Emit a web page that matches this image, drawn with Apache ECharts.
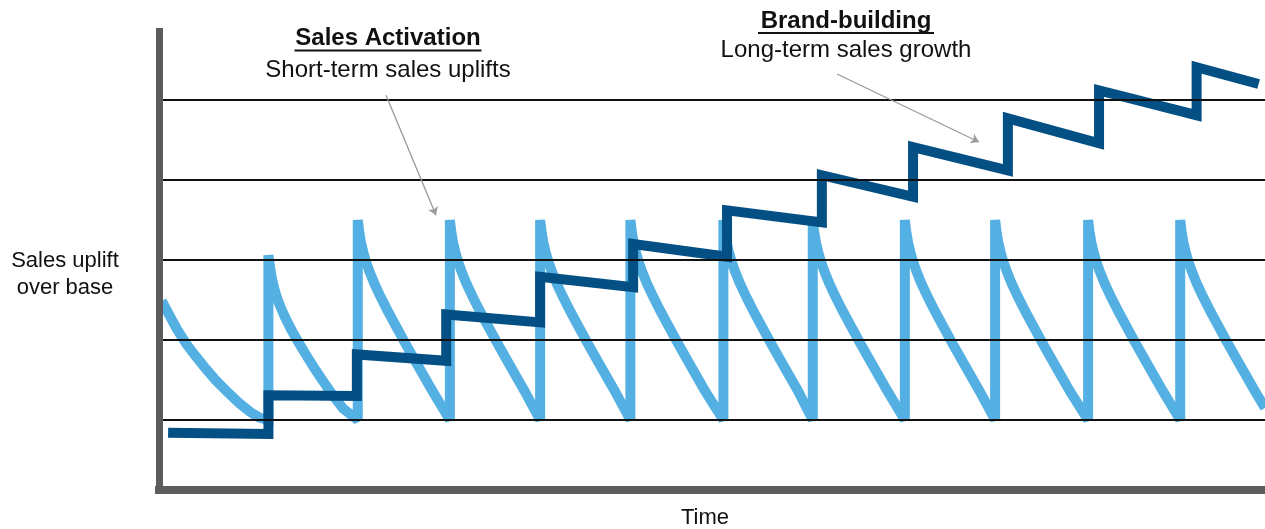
<!DOCTYPE html>
<html>
<head>
<meta charset="utf-8">
<title>Sales Activation vs Brand-building</title>
<script src="https://cdn.jsdelivr.net/npm/echarts@6/dist/echarts.min.js"></script>
<style>
  html, body { margin: 0; padding: 0; background: #ffffff; }
  #chart { width: 1265px; height: 529px; }
</style>
</head>
<body>
<div id="chart"></div>
<script>
// Short-term activation bursts: [time, uplift] — each burst jumps up and decays back to base
const activationPoints = [
  [-0.17, 2.49], [-0.1, 2.34], [0.0, 2.13], [0.1, 1.95], [0.2, 1.8], [0.3, 1.66], [0.42, 1.5], [0.55, 1.35], [0.68, 1.21], [0.8, 1.1], [0.9, 1.03],
  [1.0, 1.0], [1.0, 3.06], [1.015, 2.93], [1.035, 2.79], [1.06, 2.66], [1.09, 2.54], [1.13, 2.42], [1.18, 2.29], [1.25, 2.13], [1.33, 1.97], [1.42, 1.8], [1.52, 1.62], [1.62, 1.45], [1.72, 1.29], [1.82, 1.14],
  [1.98, 1.0], [1.98, 3.5], [1.995, 3.36], [2.015, 3.22], [2.04, 3.1], [2.07, 2.98], [2.11, 2.85], [2.16, 2.71], [2.23, 2.54], [2.31, 2.36], [2.4, 2.17], [2.5, 1.96], [2.6, 1.76], [2.7, 1.56], [2.8, 1.36],
  [2.99, 1.0], [2.99, 3.5], [3.005, 3.36], [3.025, 3.22], [3.05, 3.1], [3.08, 2.98], [3.12, 2.85], [3.17, 2.71], [3.24, 2.54], [3.32, 2.36], [3.41, 2.17], [3.51, 1.96], [3.61, 1.76], [3.71, 1.56], [3.81, 1.36],
  [3.98, 1.0], [3.98, 3.5], [3.995, 3.36], [4.015, 3.22], [4.04, 3.1], [4.07, 2.98], [4.11, 2.85], [4.16, 2.71], [4.23, 2.54], [4.31, 2.36], [4.4, 2.17], [4.5, 1.96], [4.6, 1.76], [4.7, 1.56], [4.8, 1.36],
  [4.97, 1.0], [4.97, 3.5], [4.985, 3.36], [5.005, 3.22], [5.03, 3.1], [5.06, 2.98], [5.1, 2.85], [5.15, 2.71], [5.22, 2.54], [5.3, 2.36], [5.39, 2.17], [5.49, 1.96], [5.59, 1.76], [5.69, 1.56], [5.79, 1.36],
  [5.99, 1.0], [5.99, 3.5], [6.005, 3.36], [6.025, 3.22], [6.05, 3.1], [6.08, 2.98], [6.12, 2.85], [6.17, 2.71], [6.24, 2.54], [6.32, 2.36], [6.41, 2.17], [6.51, 1.96], [6.61, 1.76], [6.71, 1.56], [6.81, 1.36],
  [6.97, 1.0], [6.97, 3.5], [6.985, 3.36], [7.005, 3.22], [7.03, 3.1], [7.06, 2.98], [7.1, 2.85], [7.15, 2.71], [7.22, 2.54], [7.3, 2.36], [7.39, 2.17], [7.49, 1.96], [7.59, 1.76], [7.69, 1.56], [7.79, 1.36],
  [7.98, 1.0], [7.98, 3.5], [7.995, 3.36], [8.015, 3.22], [8.04, 3.1], [8.07, 2.98], [8.11, 2.85], [8.16, 2.71], [8.23, 2.54], [8.31, 2.36], [8.4, 2.17], [8.5, 1.96], [8.6, 1.76], [8.7, 1.56], [8.8, 1.36],
  [8.97, 1.0], [8.97, 3.5], [8.985, 3.36], [9.005, 3.22], [9.03, 3.1], [9.06, 2.98], [9.1, 2.85], [9.15, 2.71], [9.22, 2.54], [9.3, 2.36], [9.39, 2.17], [9.49, 1.96], [9.59, 1.76], [9.69, 1.56], [9.79, 1.36],
  [9.99, 1.0], [9.99, 3.5], [10.005, 3.36], [10.025, 3.22], [10.05, 3.1], [10.08, 2.98], [10.12, 2.85], [10.17, 2.71], [10.24, 2.54], [10.32, 2.36], [10.41, 2.17], [10.51, 1.96], [10.61, 1.76], [10.71, 1.56], [10.81, 1.36],
  [11.0, 1.0], [11.0, 3.5], [11.015, 3.36], [11.035, 3.22], [11.06, 3.1], [11.09, 2.98], [11.13, 2.85], [11.18, 2.71], [11.25, 2.54], [11.33, 2.36], [11.42, 2.17], [11.52, 1.96], [11.62, 1.76], [11.72, 1.56], [11.82, 1.36],
  [11.93, 1.15]
];

// Long-term brand effect: a rising staircase that erodes slightly between steps
const brandPoints = [
  [-0.1, 0.84], [1.0, 0.825],
  [1.0, 1.31], [1.97, 1.3],
  [1.97, 1.82], [2.95, 1.74],
  [2.95, 2.32], [3.98, 2.22],
  [3.98, 2.79], [5.0, 2.66],
  [5.0, 3.2], [6.03, 3.04],
  [6.03, 3.62], [7.07, 3.47],
  [7.07, 4.06], [8.07, 3.79],
  [8.07, 4.41], [9.11, 4.12],
  [9.11, 4.77], [10.11, 4.46],
  [10.11, 5.12], [11.18, 4.81],
  [11.18, 5.41], [11.86, 5.2]
];

// Horizontal reference levels
const gridLevels = [1, 2, 3, 4, 5];

// Annotation pointers: [from, to] in [time, uplift]
const activationPointer = [[2.29, 5.06], [2.838, 3.56]];
const brandPointer = [[7.236, 5.325], [8.793, 4.475]];

// Text
const activationTitle = 'Sales Activation';
const activationSubtitle = 'Short-term sales uplifts';
const brandTitle = 'Brand-building';
const brandSubtitle = 'Long-term sales growth';
const yAxisTitle = ['Sales uplift', 'over base'];
const xAxisTitle = 'Time';

const FONT = '"Liberation Sans", Arial, Helvetica, sans-serif';
const LIGHT_BLUE = '#54b0e2';
const DARK_BLUE = '#044f84';
const AXIS_GREY = '#5c5c5c';

const chart = echarts.init(document.getElementById('chart'), null, { renderer: 'canvas' });

function textEl(text, x, y, size, bold) {
  return {
    type: 'text',
    x: x,
    y: y,
    silent: true,
    z: 100,
    style: {
      text: text,
      fill: '#111111',
      font: (bold ? 'bold ' : '') + size + 'px ' + FONT,
      align: 'center',
      verticalAlign: 'middle'
    }
  };
}

function underline(cx, y, w) {
  return {
    type: 'rect',
    silent: true,
    z: 100,
    shape: { x: cx - w / 2, y: y, width: w, height: 2 },
    style: { fill: '#111111' }
  };
}

const option = {
  backgroundColor: '#ffffff',
  animation: false,
  grid: { left: 159, right: 0, top: 28, bottom: 39, containLabel: false },
  xAxis: {
    type: 'value',
    min: -0.2,
    max: 11.93,
    z: 10,
    axisLine: { show: true, onZero: false, lineStyle: { color: AXIS_GREY, width: 8, cap: 'square' } },
    axisTick: { show: false },
    axisLabel: { show: false },
    splitLine: { show: false }
  },
  yAxis: {
    type: 'value',
    min: 0.125,
    max: 5.9,
    z: 10,
    axisLine: { show: true, onZero: false, lineStyle: { color: AXIS_GREY, width: 7, cap: 'butt' } },
    axisTick: { show: false },
    axisLabel: { show: false },
    splitLine: { show: false }
  },
  series: [
    {
      name: 'Sales activation',
      type: 'line',
      data: activationPoints,
      showSymbol: false,
      silent: true,
      z: 2,
      lineStyle: { color: LIGHT_BLUE, width: 10, join: 'miter', miterLimit: 2, cap: 'butt' }
    },
    {
      name: 'Brand-building',
      type: 'line',
      data: brandPoints,
      showSymbol: false,
      silent: true,
      z: 3,
      lineStyle: { color: DARK_BLUE, width: 10, join: 'miter', cap: 'butt', miterLimit: 10 }
    },
    {
      name: 'levels',
      type: 'line',
      data: [],
      silent: true,
      z: 4,
      markLine: {
        silent: true,
        symbol: 'none',
        animation: false,
        label: { show: false },
        lineStyle: { color: '#111111', width: 1.8, type: 'solid' },
        data: gridLevels.map(function (v) { return { yAxis: v }; })
      }
    },
    {
      name: 'pointers',
      type: 'line',
      data: [],
      silent: true,
      z: 5,
      markLine: {
        silent: true,
        symbol: ['none', 'arrow'],
        symbolSize: 8,
        animation: false,
        label: { show: false },
        lineStyle: { color: '#9a9a9a', width: 1.3, type: 'solid' },
        data: [
          [{ coord: activationPointer[0] }, { coord: activationPointer[1] }],
          [{ coord: brandPointer[0] }, { coord: brandPointer[1] }]
        ]
      }
    }
  ],
  graphic: [
    textEl(activationTitle, 388, 38.5, 24, true),
    underline(388, 49.5, 187),
    textEl(activationSubtitle, 388, 70, 24, false),
    textEl(brandTitle, 846, 21, 24, true),
    underline(846, 32, 176),
    textEl(brandSubtitle, 846, 50, 24, false),
    textEl(yAxisTitle[0], 65, 260.5, 22, false),
    textEl(yAxisTitle[1], 65, 288, 22, false),
    textEl(xAxisTitle, 705, 518, 22, false)
  ]
};

chart.setOption(option);
</script>
</body>
</html>
